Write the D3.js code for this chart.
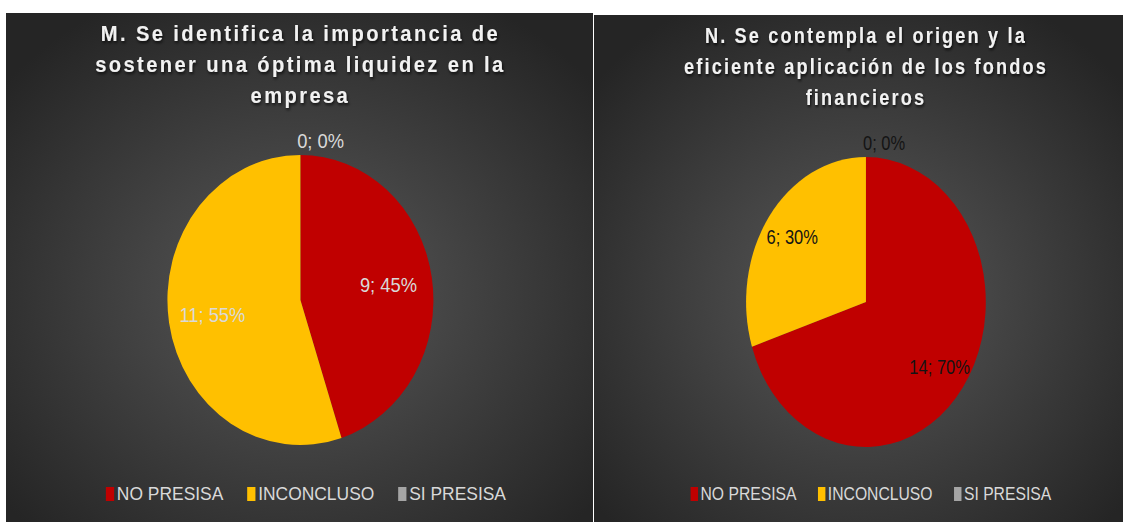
<html>
<script src="https://d3js.org/d3.v7.min.js"></script>
<style>
  body {margin: 0; background: #fff;}
  svg text {font-family: "Liberation Sans", Arial, sans-serif;}
</style>
<body>
<svg id="chart" width="1123" height="522"></svg>
<script>
// data
var categories = ["NO PRESISA", "INCONCLUSO", "SI PRESISA"];
var colors = ["#C00000", "#FFC000", "#A5A5A5"];
var valuesM = [9, 11, 0];
var valuesN = [14, 6, 0];
var titleM = ["M. Se identifica la importancia de", "sostener una óptima liquidez en la", "empresa"];
var titleN = ["N. Se contempla el origen y la", "eficiente aplicación de los fondos", "financieros"];

// each chart is laid out in a 640 wide box, then squeezed to its panel width
var panels = [
  {id: "m", values: valuesM, title: titleM, x: 6, y: 13, w: 587, h: 509, cx: 321, labelColor: "#d9d9d9", labelR: 0.67},
  {id: "n", values: valuesN, title: titleN, x: 594, y: 15, w: 529, h: 507, cx: 329, labelColor: "#141414", labelR: 0.76}
];
var nativeW = 640, radius = 145, pieY = 287;

var svg = d3.select("#chart");
var defs = svg.append("defs");

var shadow = defs.append("filter").attr("id", "tshadow")
  .attr("x", "-10%").attr("y", "-30%").attr("width", "120%").attr("height", "160%");
shadow.append("feDropShadow").attr("dx", 1).attr("dy", 2).attr("stdDeviation", 1.5)
  .attr("flood-color", "#000").attr("flood-opacity", 0.75);

var pie = d3.pie().sort(null).value(function(d) { return d; });
var arc = d3.arc().innerRadius(0).outerRadius(radius);

panels.forEach(function(p) {
  var sx = p.w / nativeW;

  var grad = defs.append("radialGradient").attr("id", "bg_" + p.id)
    .attr("cx", "50%").attr("cy", "55%").attr("r", "65%");
  grad.append("stop").attr("offset", "0%").attr("stop-color", "#595959");
  grad.append("stop").attr("offset", "100%").attr("stop-color", "#252525");

  svg.append("rect")
    .attr("x", p.x).attr("y", p.y).attr("width", p.w).attr("height", p.h)
    .attr("fill", "url(#bg_" + p.id + ")");

  var g = svg.append("g")
    .attr("transform", "translate(" + p.x + "," + p.y + ") scale(" + sx + ",1)");

  // title
  g.append("g").attr("filter", "url(#tshadow)")
    .selectAll("text").data(p.title).enter().append("text")
    .attr("x", p.cx)
    .attr("y", function(d, i) { return 28 + i * 31; })
    .attr("text-anchor", "middle")
    .attr("font-size", 22).attr("font-weight", "bold")
    .attr("letter-spacing", 2.6)
    .attr("fill", "#f2f2f2")
    .text(function(d) { return d; });

  // pie
  var total = d3.sum(p.values);
  var arcs = pie(p.values);
  var pg = g.append("g").attr("transform", "translate(" + p.cx + "," + pieY + ")");
  pg.selectAll("path").data(arcs).enter().append("path")
    .attr("d", arc)
    .attr("fill", function(d, i) { return colors[i]; });

  var labelArc = d3.arc().innerRadius(radius * p.labelR).outerRadius(radius * p.labelR);
  pg.selectAll("text").data(arcs).enter().append("text")
    .attr("transform", function(d) {
      if (d.value === 0) {
        var a = d.startAngle;
        return "translate(" + (Math.sin(a) * (radius + 14) + 22) + "," + (-Math.cos(a) * (radius + 14)) + ")";
      }
      return "translate(" + labelArc.centroid(d) + ")";
    })
    .attr("text-anchor", "middle")
    .attr("dy", "0.35em")
    .attr("font-size", 20)
    .attr("fill", p.labelColor)
    .text(function(d) { return d.value + "; " + Math.round(d.value / total * 100) + "%"; });

  // legend
  var lg = g.append("g").attr("transform", "translate(0," + (488 - p.y) + ")");
  var items = lg.selectAll("g").data(categories).enter().append("g");
  items.append("rect")
    .attr("y", -1).attr("width", 9).attr("height", 14)
    .attr("fill", function(d, i) { return colors[i]; });
  items.append("text")
    .attr("x", 12).attr("y", 12)
    .attr("font-size", 19)
    .attr("fill", "#d9d9d9")
    .text(function(d) { return d; });
  var widths = [];
  items.each(function() { widths.push(12 + d3.select(this).select("text").node().getComputedTextLength()); });
  var gap = 26;
  var totalW = d3.sum(widths) + gap * (widths.length - 1);
  var pos = p.cx + 6 - totalW / 2;
  items.attr("transform", function(d, i) {
    var x = pos;
    pos += widths[i] + gap;
    return "translate(" + x + ",0)";
  });
});
</script>
</body>
</html>
